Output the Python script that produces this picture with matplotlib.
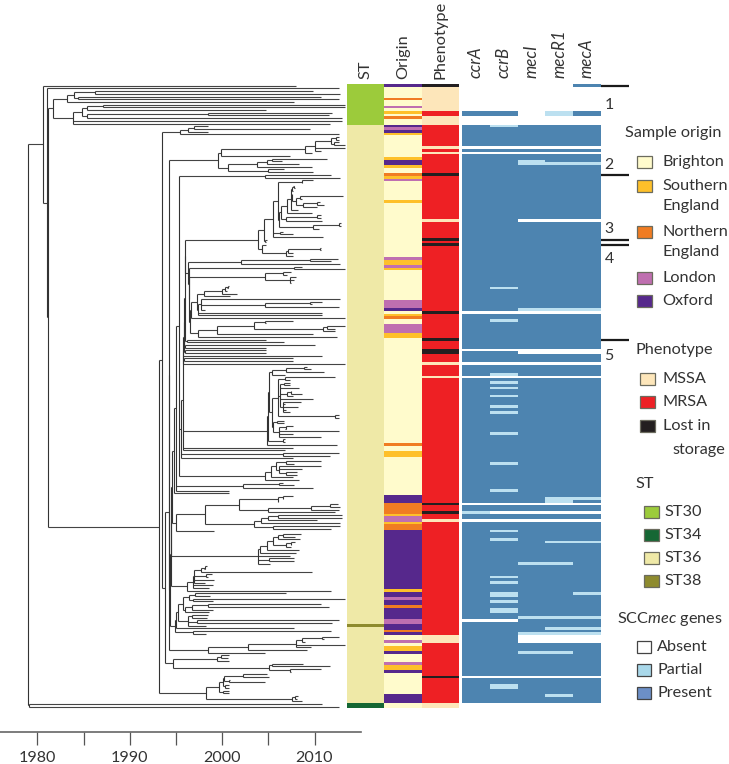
import numpy as np
import matplotlib
matplotlib.use('Agg')
import matplotlib.pyplot as plt
from matplotlib.colors import ListedColormap
from matplotlib.patches import Rectangle

plt.rcParams['font.family'] = ['Lato', 'DejaVu Sans']
plt.rcParams['mathtext.fontset'] = 'custom'
plt.rcParams['mathtext.rm'] = 'Lato'
plt.rcParams['mathtext.it'] = 'Lato:italic'

# tree as nested lists: [node year, child, child, ...], a plain number is a tip
st30 = [1981.7,
        [1983.2, [1984.0, [1986.2, 2009.8, 2012.8], [1984.4, 2010.7, 2012.7]], 2007.8],
        [1983.9, [1984.8, [1985.4, [1987.15, 2013.3, 2013.3], 2004.8],
                  [1985.4, [1998.5, 2011.9, 2011.6], 2013.0]], 2013.0, 2011.7]]
c538 = [1995.4, [1996.3, [1997.0, 1998.5, 2009.5], 1998.5], 2012.7]
c660 = [1999.6,
        [1999.9, [2009.0, [2010.1, [2011.8, [2012.3, 2012.7, 2012.7], [2012.1, 2012.7, 2013.3]],
                           2013.3, 2010.7], 2009.7], 2007.4],
        [2000.6, [2003.75, [2004.9, [2005.45, 2011.4, 2006.5], 2008.3], 2009.7],
         [2005.0, 2006.7, 2009.8]]]
c793a = [2004.6, 2011.8, 2012.8]
c775 = [2003.9,
        [2004.5,
         [2005.5,
          [2006.0,
           [2008.6, 2009.8, 2008.7],
           [2006.2,
            [2006.4,
             [2007.0,
              [2007.5,
               [2007.6, [2007.8, 2007.7, 2007.9], 2007.7],
               [2007.6, 2007.6, [2008.0, [2008.4, 2013.1, 2008.7],
                                 [2008.8, [2010.3, 2010.6, 2011.0], 2010.3]]],
               2008.2],
              2009.7],
             [2006.9, [2010.3, 2010.7, 2010.7], 2010.8]],
            [2009.8, [2012.6, 2012.9, 2012.9], 2010.5]]],
          [2006.3, 2006.6, 2007.7], 2010.9],
         [2004.6, 2004.9, 2004.7]],
        [2004.3, 2004.7,
         [2006.9, [2007.1, [2010.6, 2010.7, 2010.7], 2007.7], 2007.7]]]
c722 = [2002.0, [2009.5, 2012.5, 2011.8], 2012.8]
c883 = [2007.8, 2008.6, 2013.3]
c793c = [2004.6, [2006.6, 2007.5, 2007.0], [2007.4, 2008.0, 2007.8, 2007.5]]
c610 = [1998.0, [2000.0, [2000.3, [2000.6, 2000.8, 2000.5], 2000.5], 2001.6], 2000.9]
c603 = [1997.7, 2012.8, [2004.6, [2009.5, 2010.8, 2009.7], 2012.7], 1998.2]
c590 = [1997.3, c610, [1997.4, c603, 2010.8, 2010.8]]
c593 = [1997.4,
        [1999.4, [2003.5, [2004.65, 2007.65, 2004.8],
                  [2010.9, [2011.3, 2013.3, 2012.2], 2012.2]], 2009.8],
        2012.4]
c803 = [2004.9,
        [2005.0,
         [2005.1,
          [2005.4, [2006.9, [2008.9, 2009.2, 2009.6], 2011.0], 2006.8],
          [2005.4,
           [2006.1,
            [2006.8, 2012.2, 2007.3],
            [2006.3, [2006.7, 2007.4, 2007.4], 2008.3,
             [2007.0, [2007.5, 2007.5, 2008.6], 2007.65], 2009.8,
             [2006.6, 2008.5, 2006.8, 2008.2, 2006.9, 2007.4]],
            [2012.2, 2012.7, 2012.7]],
           [2005.5, [2005.9, 2006.7, 2006.7],
            [2006.2, [2006.9, 2007.7, 2006.8], 2012.7, 2007.7, 2010.7]]]],
         [2006.6, 2006.8, 2006.8]],
        2012.4]
c793b = [2004.6,
         [2005.3,
          [2005.85, [2006.9, 2010.7, 2007.8],
           [2006.2, 2010.7, 2008.7, [2006.9, 2008.1, 2008.1]]],
          2007.65],
         2008.3]
c730 = [2002.3, [2006.2, 2006.6, 2007.8], 2009.8]
c617 = [1998.2,
        [2001.8, [2006.1, [2006.6, 2007.7, 2006.6], 2006.1],
         [2005.0, [2009.6, [2011.7, 2012.5, 2012.8], 2012.7], 2012.2]],
        [2003.4, [2004.2, [2005.0, [2006.0, 2013.0, 2013.0], 2010.3], 2012.8],
         [2005.5, 2012.8, 2011.8]]]
c775b = [2003.9,
         [2004.1, [2004.9, [2005.5, [2006.0, [2006.6, 2008.5, 2007.9], 2008.4],
                            [2006.9, [2007.5, 2007.9, 2007.5], 2007.5]], 2008.3], 2008.0],
         2007.3, [2005.1, 2007.8, 2007.8], 2005.2]
c562 = [1996.25,
        [1996.8,
         [1997.0, [1997.7, [1998.2, 1998.4, 1998.05], 2009.7], [1998.3, 1998.9, 1998.5],
          1999.1, 1998.2],
         1999.0, 1998.55],
        2011.8]
c525 = [1994.9,
        [1995.0,
         [1995.2,
          [1995.8, [1996.4, [1997.1, 2006.9, 1998.7], [1996.8, 2013.3, 1999.0]],
           [1996.0, [1996.7, [1998.5, 2010.7, 2011.6], 1999.0], 1998.6]],
          [1996.35, [1996.7, 1998.5, 1998.4], [1997.3, 2012.7, 2011.9], 1998.3]],
         2007.8],
        [1996.8, 2011.8, 1998.3]]
c625 = [1998.5,
        [2002.8, [2008.0, [2008.7, [2010.8, 2012.7, 2011.0], 2009.0], 2013.3, 2009.6], 2009.2],
        2004.65]
c520 = [1994.7, [1999.4, [1999.9, 2000.7, 2000.6], 2000.8],
        [2005.1, [2005.4, 2008.8, 2011.7], [2007.3, 2010.7, 2007.5]]]
c620 = [1998.3,
        [1999.7, [2000.1, [2000.25, [2002.3, 2004.9, 2005.1], [2000.8, 2000.9, 2004.65]],
                  [2000.3, 2000.7, 2000.7]],
         [2000.1, 2000.7, 2000.7]],
        [2007.55, [2007.9, 2008.2, 2008.1], 2008.6]]

# backbone, built from the bottom of the ladder upward
f_ladder = [1996.35, c722, [1996.4, c883, [1996.45, c793c,
            [1996.5, [1996.6, c590, 2013.3], c593]]]]
d_node = [1996.0, c775, f_ladder]
h_ladder = [1995.8,
            [1995.85, [1995.9, [1995.95, d_node, [1996.15, 2004.8, 2006.7]],
                       [1996.0, 2010.0, 2004.8]],
             [1995.95, 2004.7, 2004.7]],
            2010.8, [1995.85, 2007.65, 2007.65], 2013.3]
i_ladder = [1995.6, [1995.75, h_ladder, c803, 2007.7, 2006.8], [2006.6, 2012.7, 2011.7], 2007.7]
n535 = [1995.3, c793a, i_ladder, c793b]
n530 = [1995.0, n535, c730, 2000.8]
n522 = [1994.8, n530, 2000.8]
n518 = [1994.6, n522, [1995.0, c617, 1999.1]]
n513 = [1994.5, n518, c775b]
n511 = [1994.45, n513, c562]
n510 = [1994.4, n511, c525]
n505 = [1994.3, c660, n510]
n496 = [1994.2, n505, c625]
n495 = [1993.8, n496, c520]
n485 = [1993.5, c538, n495]
n478 = [1993.2, n485, c620]
tree = [1979.0,
        [1980.65, 2008.0, [1981.0, 2012.7, [1981.2, st30, n478]]],
        [1979.1, 2010.8, 2012.7]]

# heat map columns, row numbers count tips from the top
st_labels = ['ST30', 'ST34', 'ST36', 'ST38']
st_colors = ['#9CCB3B', '#156734', '#EFE9A7', '#8E8B2E']
st30_rows = list(range(0, 15))
st34_rows = [229, 230]
st38_rows = [200]

origin_labels = ['Brighton', 'Southern\nEngland', 'Northern\nEngland', 'London', 'Oxford']
origin_colors = ['#FFFBCC', '#FEC02A', '#F07C22', '#BF6FB0', '#56288C']
southern_rows = [10, 18, 27, 30, 34, 43, 65, 66, 68, 85, 92, 93, 136, 137, 159, 162, 187,
                 208, 209, 215, 216]
northern_rows = [5, 12, 33, 86, 133, 155, 156, 157, 158, 163, 164, 193, 202]
london_rows = [8, 16, 35, 64, 67, 80, 81, 82, 89, 90, 91, 160, 161, 190, 198, 199, 206, 214]
oxford_rows = [0, 15, 17, 28, 29, 83, 152, 153, 154] + list(range(165, 187)) + \
              [188, 189, 191, 192, 194, 195, 196, 197, 200, 201, 203, 210, 217, 226, 227, 228]

pheno_labels = ['MSSA', 'MRSA', 'Lost in']
pheno_colors = ['#FDE6BA', '#EE2024', '#231F20']
mssa_rows = list(range(1, 10)) + [12, 13, 14, 23, 25, 50, 103, 108, 161, 204, 205, 206, 229, 230]
lost_rows = [0, 33, 57, 59, 84, 94, 98, 99, 155, 158, 219]

genes = ['ccrA', 'ccrB', 'mecI', 'mecR1', 'mecA']
gene_colors = ['#FFFFFF', '#BCE0F0', '#4D84B0']
absent_all = list(range(1, 10)) + [12, 13, 14, 23, 25, 84, 98, 103, 108, 155, 161, 219, 229, 230]
absent_rows = {
    'ccrA': [0, 198],
    'ccrB': [0, 158, 198],
    'mecI': [0, 10, 11, 50, 99, 158, 204, 205, 206],
    'mecR1': [0, 50, 99, 158, 204, 205, 206],
    'mecA': [50, 99, 158, 204, 205, 206],
}
partial_rows = {
    'ccrA': [158],
    'ccrB': [15, 75, 87, 107, 110, 112, 115, 119, 121, 129, 140, 150, 165, 168, 182, 184,
             188, 189, 191, 194, 195, 222, 223],
    'mecI': [28, 29, 83, 177, 197, 203, 210],
    'mecR1': [10, 11, 29, 83, 153, 154, 169, 177, 197, 201, 203, 210, 226],
    'mecA': [29, 83, 153, 169, 188, 197, 201, 203],
}

# black markers at the right of the heat map and the clade numbers
marker_rows = [0, 33, 57, 59, 94]
clade_numbers = ['1', '2', '3', '4', '5']
clade_rows = [7.2, 29.4, 53, 64.3, 100]

year_ticks = [1980, 1985, 1990, 1995, 2000, 2005, 2010]

n_rows = 231
W, H = 729, 764
ROW_PX = 2.7
TOP = 84.35
BOTTOM = TOP + n_rows * ROW_PX


def px_axes(x0, y0, x1, y1):
    return fig.add_axes([x0 / W, 1 - y1 / H, (x1 - x0) / W, (y1 - y0) / H])


def layout(node, parent_year, h_segs, v_segs, counter):
    # returns the row of the node, internal nodes sit midway between first and last child
    if not isinstance(node, list):
        row = counter[0]
        counter[0] += 1
        if parent_year is not None:
            h_segs.append((row, parent_year, node))
        return row
    year = node[0]
    child_rows = [layout(c, year, h_segs, v_segs, counter) for c in node[1:]]
    row = (child_rows[0] + child_rows[-1]) / 2
    v_segs.append((year, child_rows[0], child_rows[-1]))
    if parent_year is not None:
        h_segs.append((row, parent_year, year))
    return row


fig = plt.figure(figsize=(W / 100, H / 100), dpi=100)

# tree
h_segs, v_segs = [], []
counter = [0]
layout(tree, None, h_segs, v_segs, counter)
print('tips', counter[0])
h_segs = np.array(h_segs)
v_segs = np.array(v_segs)

AXIS_Y = 732
ax = px_axes(0, TOP, 361, AXIS_Y)
ax.hlines(h_segs[:, 0], h_segs[:, 1], h_segs[:, 2], color='#444444', lw=0.8)
ax.vlines(v_segs[:, 0], v_segs[:, 1], v_segs[:, 2], color='#333333', lw=0.8)
ax.set_xlim(1980 - 37.3 / 9.24, 1980 + (361 - 37.3) / 9.24)
ax.set_ylim(-0.5 + (AXIS_Y - TOP) / ROW_PX, -0.5)
for s in ['top', 'left', 'right']:
    ax.spines[s].set_visible(False)
ax.spines['bottom'].set_color('#666666')
ax.spines['bottom'].set_linewidth(1.2)
ax.set_yticks([])
ax.set_xticks(year_ticks)
ax.set_xticklabels([str(y) if y % 10 == 0 else '' for y in year_ticks], fontsize=11.6, color='#333333')
ax.tick_params(axis='x', length=9.5, width=0.9, color='#555555', pad=4.5)

# metadata columns
meta = np.zeros((n_rows, 3), dtype=int)
meta[:, 0] = 2
meta[st30_rows, 0] = 0
meta[st34_rows, 0] = 1
meta[st38_rows, 0] = 3
meta[:, 1] = 4
for code, rows in enumerate([southern_rows, northern_rows, london_rows, oxford_rows], start=5):
    meta[rows, 1] = code
meta[:, 2] = 10
meta[mssa_rows, 2] = 9
meta[lost_rows, 2] = 11
meta_cmap = ListedColormap(st_colors + origin_colors + pheno_colors)

ax_meta = px_axes(347.3, TOP, 458.7, BOTTOM)
ax_meta.imshow(meta, cmap=meta_cmap, vmin=-0.5, vmax=11.5, aspect='auto', interpolation='nearest')
ax_meta.set_yticks([])
ax_meta.xaxis.tick_top()
ax_meta.set_xticks([0, 1, 2])
ax_meta.set_xticklabels(['ST', 'Origin', 'Phenotype'], rotation=90, fontsize=11.8, color='#333333')
ax_meta.tick_params(axis='x', length=0, pad=4)
for s in ax_meta.spines.values():
    s.set_visible(False)

# gene columns
calls = np.full((n_rows, len(genes)), 2)
calls[absent_all, :] = 0
for j, g in enumerate(genes):
    calls[absent_rows[g], j] = 0
    calls[partial_rows[g], j] = 1
ax_genes = px_axes(462, TOP, 600.7, BOTTOM)
ax_genes.imshow(calls, cmap=ListedColormap(gene_colors), vmin=0, vmax=2, aspect='auto', interpolation='nearest')
ax_genes.set_yticks([])
ax_genes.xaxis.tick_top()
ax_genes.set_xticks(range(len(genes)))
ax_genes.set_xticklabels(genes, rotation=90, fontsize=12.2, style='italic', color='#333333')
ax_genes.tick_params(axis='x', length=0, pad=4.5)
for s in ax_genes.spines.values():
    s.set_visible(False)
ax_genes.hlines(marker_rows, 4.5, 5.52, color='#1a1a1a', lw=1.6, clip_on=False)
for num, row in zip(clade_numbers, clade_rows):
    ax_genes.text(4.8, row, num, fontsize=11.4, color='#333333', ha='center', va='center', clip_on=False)
ax_genes.set_xlim(-0.5, 4.5)

# legends, drawn on an overlay in figure pixels
leg = fig.add_axes([0, 0, 1, 1], facecolor='none')
leg.set_xlim(0, W)
leg.set_ylim(H, 0)
leg.axis('off')


def heading(x, y, s):
    leg.text(x, y, s, fontsize=11.7, color='#333333', va='center', ha='left')


def item(x0, x1, y0, y1, color, tx, ty, label, edge='#6b6b5e'):
    leg.add_patch(Rectangle((x0, y0), x1 - x0, y1 - y0, facecolor=color, edgecolor=edge, lw=0.9))
    for k, line in enumerate(label.split('\n')):
        leg.text(tx, ty + k * 20.3, line, fontsize=11.7, color='#333333', va='center', ha='left')


heading(625, 133.3, 'Sample origin')
origin_y = [156, 180, 225.7, 271.7, 295]
for y, c, lab in zip(origin_y, origin_colors, origin_labels):
    item(636.7, 651.7, y, y + 12, c, 662.7, y + 6, lab)

heading(636, 350, 'Phenotype')
pheno_y = [373.3, 396, 419.5]
for y, c, lab in zip(pheno_y, pheno_colors, pheno_labels):
    item(640, 655, y, y + 12, c, 662.7, y + 6, lab)
leg.text(672.7, 450, 'storage', fontsize=11.7, color='#333333', va='center', ha='left')

heading(636, 484.3, 'ST')
st_y = [506, 529.3, 552, 575]
for y, c, lab in zip(st_y, st_colors, st_labels):
    item(644.3, 659.3, y, y + 12, c, 664.3, y + 6, lab)

heading(617.3, 619, 'SCC$\\mathit{mec}$ genes')
scc_y = [641, 664, 686.7]
scc_labels = ['Absent', 'Partial', 'Present']
scc_colors = ['#FFFFFF', '#A9D8EA', '#6C8FC7']
for y, c, lab in zip(scc_y, scc_colors, scc_labels):
    item(636.7, 651, y, y + 12, c, 657.3, y + 6, lab, edge='#444444')

fig.savefig('out.png', dpi=100)
